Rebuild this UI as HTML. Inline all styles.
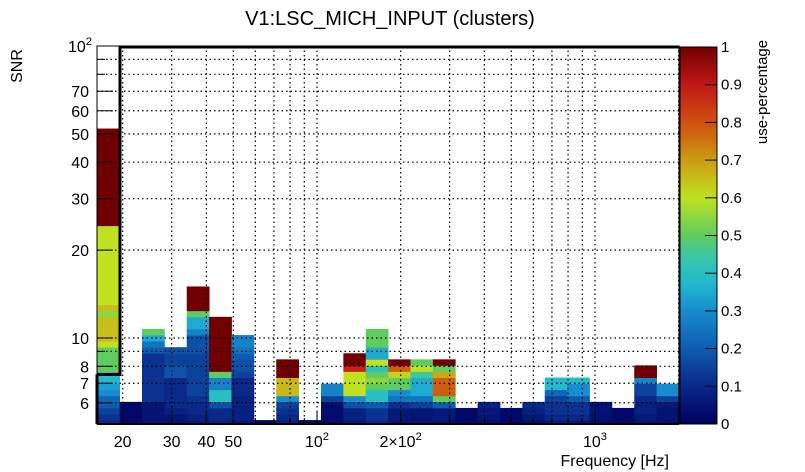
<!DOCTYPE html>
<html><head><meta charset="utf-8"><style>
body{margin:0;background:#fff;}
svg{display:block;font-family:"Liberation Sans",sans-serif;}
</style></head><body>
<svg id="chart" width="805" height="472" viewBox="0 0 805 472">
<rect x="0" y="0" width="805" height="472" fill="#fff"/>
<text x="390" y="25" font-size="20" text-anchor="middle">V1:LSC_MICH_INPUT (clusters)</text>
<g id="cells"></g>
<g id="grid"></g>
<g id="axes"></g>
<g id="cbar"></g>
<text transform="translate(22,66) rotate(-90)" font-size="16" text-anchor="middle">SNR</text>
<text x="669" y="466" font-size="16" text-anchor="end">Frequency [Hz]</text>
<text transform="translate(767,92) rotate(-90)" font-size="15" text-anchor="middle">use-percentage</text>
</svg>
<script>
// ---- data ----
const freqRange = [16.2, 2005];   // Hz, 26 log bins
const snrRowStart = 4.99;         // lowest SNR bin edge
const snrRowLogStep = 0.0208;     // log10 width of one SNR bin
// use-percentage per column, rows from bottom (row 0) upward
const col01 = [0.1,0.12,0.15,0.2,0.22,0.3,0.33,0.38,0.4,0.5,0.5,0.5,0.5,0.6,0.65,0.65,0.65,0.65,0.55,0.65,0.6,0.6,0.6,0.6,0.6,0.6,0.6,0.6,0.6,0.6,0.6,0.6,0.6,1,1,1,1,1,1,1,1,1,1,1,1,1,1,1,1];
const col02 = [0.02,0.02,0.02,0.02];
const col03 = [0.05,0.05,0.05,0.05,0.12,0.12,0.12,0.12,0.12,0.12,0.12,0.12,0.2,0.25,0.35,0.5];
const col04 = [0.05,0.05,0.08,0.1,0.1,0.1,0.1,0.1,0.18,0.18,0.15,0.15,0.18];
const col05 = [0.06,0.08,0.1,0.1,0.12,0.15,0.15,0.15,0.15,0.15,0.15,0.15,0.18,0.18,0.18,0.28,0.35,0.35,0.5,1,1,1,1];
const col06 = [0.08,0.1,0.1,0.18,0.4,0.4,0.28,0.28,0.5,1,1,1,1,1,1,1,1,1];
const col07 = [0.06,0.08,0.08,0.08,0.08,0.1,0.1,0.1,0.15,0.18,0.18,0.2,0.25,0.28,0.28];
const col08 = [0.02];
const col09 = [0.08,0.1,0.12,0.15,0.3,0.66,0.66,0.66,1,1,1];
const col10 = [0.02];
const col11 = [0.03,0.03,0.03,0.03,0.15,0.28,0.28];
const col12 = [0.06,0.08,0.08,0.18,0.3,0.6,0.6,0.6,0.6,0.88,1,1];
const col13 = [0.1,0.12,0.12,0.2,0.4,0.4,0.5,0.55,0.5,0.42,0.6,0.35,0.35,0.5,0.5,0.5];
const col14 = [0.05,0.06,0.06,0.12,0.25,0.3,0.5,0.5,0.62,0.78,1];
const col15 = [0.05,0.05,0.05,0.15,0.25,0.35,0.35,0.35,0.45,0.6,0.5];
const col16 = [0.05,0.06,0.06,0.2,0.5,0.78,0.78,0.78,0.68,0.5,1];
const col17 = [0.02,0.02,0.02];
const col18 = [0.04,0.05,0.06,0.08];
const col19 = [0.02,0.02,0.02];
const col20 = [0.04,0.06,0.08,0.1];
const col21 = [0.06,0.1,0.12,0.12,0.15,0.22,0.38,0.38];
const col22 = [0.06,0.1,0.12,0.12,0.2,0.3,0.3,0.38];
const col23 = [0.03,0.04,0.05,0.05];
const col24 = [0.02,0.02,0.02];
const col25 = [0.05,0.06,0.08,0.08,0.1,0.15,0.15,0.28,1,1];
const col26 = [0.04,0.05,0.05,0.06,0.15,0.3,0.3];
const columns = [col01,col02,col03,col04,col05,col06,col07,col08,col09,col10,col11,col12,col13,col14,col15,col16,col17,col18,col19,col20,col21,col22,col23,col24,col25,col26];
const yTickValues = [6,7,8,10,20,30,40,50,60,70,100];
const yTickLabels = ["6","7","8","10","20","30","40","50","60","70","10²"];
const xTickValues = [20,30,40,50,100,200,1000];
const xTickLabels = ["20","30","40","50","10²","2×10²","10³"];
const cbTickValues = [0,0.1,0.2,0.3,0.4,0.5,0.6,0.7,0.8,0.9,1];
const cbTickLabels = ["0","0.1","0.2","0.3","0.4","0.5","0.6","0.7","0.8","0.9","1"];

// ---- axes ----
const PX0=97, PX1=679, PY0=46, PY1=424;
const NS='http://www.w3.org/2000/svg';
function xScale(f){return 317+278*Math.log10(f/100);}
function yScale(s){return 338-292*Math.log10(s/10);}
function colorOf(v){
  const st=[[0,[0,0,96]],[0.1,[10,40,136]],[0.2,[14,92,176]],[0.3,[24,140,206]],[0.37,[32,184,208]],[0.43,[50,196,180]],[0.5,[96,204,96]],[0.6,[192,224,32]],[0.66,[200,184,24]],[0.72,[204,140,16]],[0.8,[208,80,16]],[0.9,[192,24,24]],[1,[112,0,0]]];
  v=Math.max(0,Math.min(1,v));
  for(let i=1;i<st.length;i++){if(v<=st[i][0]){const a=st[i-1],b=st[i],t=(v-a[0])/(b[0]-a[0]);
    return 'rgb('+a[1].map((c,k)=>Math.round(c+(b[1][k]-c)*t)).join(',')+')';}}
  return 'rgb(112,0,0)';
}
function mk(tag,attrs,parent){const e=document.createElementNS(NS,tag);for(const k in attrs)e.setAttribute(k,attrs[k]);parent.appendChild(e);return e;}

const cells=document.getElementById('cells');
const lf0=Math.log10(freqRange[0]), lf1=Math.log10(freqRange[1]);
const nCols=columns.length;
columns.forEach((col,ci)=>{
  const fLo=Math.pow(10,lf0+(lf1-lf0)*ci/nCols), fHi=Math.pow(10,lf0+(lf1-lf0)*(ci+1)/nCols);
  const x0=xScale(fLo), x1=xScale(fHi);
  col.forEach((v,ri)=>{
    const sLo=Math.pow(10,Math.log10(snrRowStart)+snrRowLogStep*ri), sHi=Math.pow(10,Math.log10(snrRowStart)+snrRowLogStep*(ri+1));
    let yT=yScale(sHi), yB=Math.min(PY1,yScale(sLo));
    if(yB<=yT)return;
    const r=mk('rect',{x:x0.toFixed(2),y:yT.toFixed(2),width:(x1-x0+0.4).toFixed(2),height:(yB-yT+0.4).toFixed(2),fill:colorOf(v)},cells);
    
    
  });
});

const grid=document.getElementById('grid');
const gx=[20,30,40,50,60,70,80,90,100,200,300,400,500,600,700,800,900,1000,2000];
gx.forEach(f=>{const x=xScale(f);if(x<=PX0||x>=PX1)return;
  const l=mk('line',{x1:x,y1:PY0,x2:x,y2:PY1,stroke:'#000','stroke-width':1.2,'stroke-dasharray':'1.5,3'},grid);
  
  
  const t=mk('line',{x1:x,y1:PY1,x2:x,y2:PY1-(xTickValues.includes(f)?12:6),stroke:'#000'},grid);
  
  
});
const gy=[6,7,8,9,10,20,30,40,50,60,70,80,90];
gy.forEach(s=>{const y=yScale(s);
  const l=mk('line',{x1:PX0,y1:y,x2:PX1,y2:y,stroke:'#000','stroke-width':1.2,'stroke-dasharray':'1.5,3'},grid);
  
  
  const t=mk('line',{x1:PX0,y1:y,x2:PX0+(yTickValues.includes(s)?16:8),y2:y,stroke:'#000'},grid);
  
  
});

const axes=document.getElementById('axes');
const fr=mk('rect',{x:PX0,y:PY0,width:PX1-PX0,height:PY1-PY0,fill:'none',stroke:'#000','stroke-width':1},axes);


const ol=mk('polyline',{points:`${PX0},${yScale(7.5)} 120,${yScale(7.5)} 120,${PY0+1} ${PX1},${PY0+1}`,fill:'none',stroke:'#000','stroke-width':3},axes);


mk('line',{x1:PX0,y1:PY1,x2:PX1,y2:PY1,stroke:'#000','stroke-width':2},axes);
mk('line',{x1:PX0,y1:yScale(7.5),x2:PX0,y2:PY1,stroke:'#000','stroke-width':3},axes);
function supText(parent,x,y,label,anchor,size,name){
  const t=mk('text',{x:x,y:y,'font-size':size,'text-anchor':anchor},parent);
  
  
  const m=label.match(/^(.*10)([²³])$/);
  if(m){t.appendChild(document.createTextNode(m[1]));
    const s=mk('tspan',{'font-size':size*0.7,dy:-7},t);s.textContent=m[2]==='²'?'2':'3';}
  else t.textContent=label;
  return t;
}
yTickValues.forEach((s,i)=>{supText(axes,yTickLabels[i].match(/²/)?92:89,yScale(s)+6,yTickLabels[i],'end',16,'y-tick-label');});
xTickValues.forEach((f,i)=>{supText(axes,xScale(f),447,xTickLabels[i],'middle',16,'x-tick-label');});

const cb=document.getElementById('cbar');
const CX0=680,CX1=717,CY0=47,CY1=424;
const defs=mk('defs',{},cb);
const grad=mk('linearGradient',{id:'cg',x1:0,y1:1,x2:0,y2:0},defs);
for(let i=0;i<=50;i++){mk('stop',{offset:i/50,'stop-color':colorOf(i/50)},grad);}
const cr=mk('rect',{x:CX0,y:CY0,width:CX1-CX0,height:CY1-CY0,fill:'url(#cg)',stroke:'#000','stroke-width':1},cb);


cbTickValues.forEach((v,i)=>{const y=CY1-(CY1-CY0)*v;
  mk('line',{x1:CX1-12,y1:y,x2:CX1,y2:y,stroke:'#000'},cb);
  const t=mk('text',{x:CX1+4,y:y+5,'font-size':15},cb);
  
  
  t.textContent=cbTickLabels[i];
});
</script>
</body></html>
